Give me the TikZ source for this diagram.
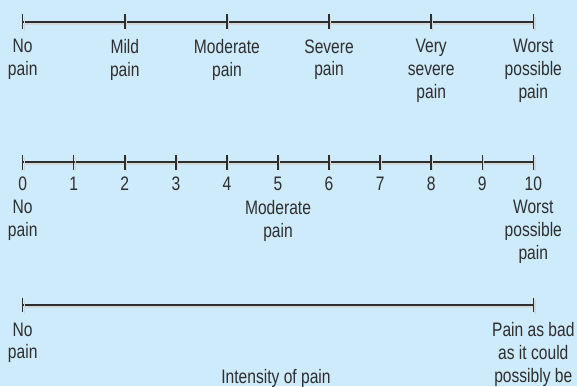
\documentclass[tikz,border=0pt]{standalone}
\usepackage{fontspec}
\setmainfont{Liberation Sans}[FakeStretch=0.8]
\usetikzlibrary{positioning,calc}
\definecolor{panelblue}{HTML}{CDEBFB}
\definecolor{scaleink}{HTML}{2E2E2E}
\definecolor{scaleshadow}{HTML}{D2D8DA}
\tikzset{
  scaleline/.style={scaleink, line width=2.2pt},
  scaletick/.style={scaleink, line width=1.4pt},
  lineshadow/.style={scaleshadow, line width=2.2pt},
  scalelabel/.style={font=\fontsize{19.5}{22.7}\selectfont, text=scaleink,
    align=center, inner sep=0pt, anchor=north},
}

\begin{document}
\begin{tikzpicture}[x=1pt, y=-1pt]
    \fill[panelblue] (0,0) rectangle (577,386);
    \useasboundingbox (0,0) rectangle (577,386);

    % verbal rating scale
    \foreach \i in {0,...,5}
        \coordinate (a\i) at ({22.7+102.12*\i},21.7);
    \draw[lineshadow] ([shift={(1.5,2)}]a0) -- ([shift={(1.5,2)}]a5);
    \draw[scaleline] (a0) -- (a5);
    \foreach \i in {0,...,5} {
        \draw[lineshadow, line width=1.4pt] ([shift={(1.5,-5)}]a\i) -- ([shift={(1.5,9)}]a\i);
        \draw[scaletick] ([yshift=7.3pt]a\i) -- ([yshift=-7.3pt]a\i);
    }
    \foreach \i/\txt in {0/No\\pain, 1/Mild\\pain, 2/Moderate\\pain,
                         3/Severe\\pain, 4/Very\\severe\\pain, 5/Worst\\possible\\pain}
        \node[scalelabel] (verbal\i) at ([yshift=-17.6pt]a\i) {\txt};

    % numeric rating scale
    \foreach \i in {0,...,10}
        \coordinate (b\i) at ({22.7+51.06*\i},162.3);
    \draw[lineshadow] ([shift={(1.5,2)}]b0) -- ([shift={(1.5,2)}]b10);
    \draw[scaleline] (b0) -- (b10);
    \foreach \i in {0,...,10} {
        \draw[lineshadow, line width=1.4pt] ([shift={(1.5,-5)}]b\i) -- ([shift={(1.5,9)}]b\i);
        \draw[scaletick] ([yshift=7.3pt]b\i) -- ([yshift=-7.3pt]b\i);
        \node[scalelabel, anchor=base] (num\i) at ([yshift=-28.4pt]b\i) {\i};
    }
    \node[scalelabel] (numno) at ([yshift=-37.7pt]b0) {No\\pain};
    \node[scalelabel] (nummod) at ([yshift=-37.7pt]b5) {Moderate\\pain};
    \node[scalelabel] (numworst) at ([yshift=-37.7pt]b10) {Worst\\possible\\pain};

    % visual analogue scale
    \coordinate (c0) at (22.7,305);
    \coordinate (c1) at (533.3,305);
    \draw[lineshadow] ([shift={(1.5,2)}]c0) -- ([shift={(1.5,2)}]c1);
    \draw[scaleline] (c0) -- (c1);
    \foreach \p in {c0,c1} {
        \draw[lineshadow, line width=1.4pt] ([shift={(1.5,-5)}]\p) -- ([shift={(1.5,9)}]\p);
        \draw[scaletick] ([yshift=7.3pt]\p) -- ([yshift=-7.3pt]\p);
    }
    \node[scalelabel] (visno) at ([yshift=-17.5pt]c0) {No\\pain};
    \node[scalelabel] (visbad) at ([yshift=-17.5pt]c1) {Pain as bad\\as it could\\possibly be};
    \node[scalelabel, anchor=base] (intensity) at ([xshift=-2pt, yshift=-78.3pt]$(c0)!0.5!(c1)$) {Intensity of pain};
\end{tikzpicture}
\end{document}
